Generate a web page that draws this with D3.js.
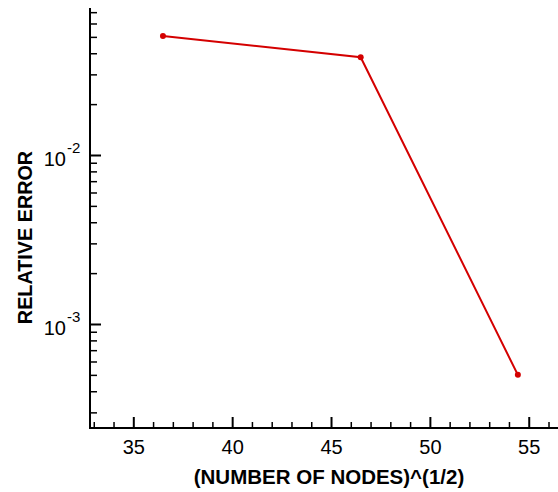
<!DOCTYPE html>
<html>
<head>
<meta charset="utf-8">
<script src="https://cdn.jsdelivr.net/npm/d3@7"></script>
<style>
  html, body { margin: 0; padding: 0; background: #fff; }
  svg { display: block; }
  text { font-family: "Liberation Sans", Arial, Helvetica, sans-serif; fill: #000; }
</style>
</head>
<body>
<svg id="chart" width="558" height="492"></svg>
<script>
// Convergence data: square root of node count vs. relative error
const sqrtNodes = [36.5, 46.5, 54.45];
const relError = [0.0506, 0.0379, 0.0005];

const xTicks = [35, 40, 45, 50, 55];
const xMinorTicks = d3.range(33, 57, 1).filter(v => v % 5 !== 0);
const yMajorTicks = [1e-2, 1e-3];
const yMajorLabels = ["-2", "-3"];
const yMinorTicks = [3e-4, 4e-4, 5e-4, 6e-4, 7e-4, 8e-4, 9e-4,
                     2e-3, 3e-3, 4e-3, 5e-3, 6e-3, 7e-3, 8e-3, 9e-3,
                     2e-2, 3e-2, 4e-2, 5e-2, 6e-2, 7e-2];

const plotLeft = 90, plotRight = 558, plotTop = 8, plotBottom = 428;

const x = d3.scaleLinear().domain([32.81, 56.48]).range([plotLeft, plotRight]);
const y = d3.scaleLog().domain([Math.pow(10, -3.6154), Math.pow(10, -1.1302)]).range([plotBottom, plotTop]);

const svg = d3.select("#chart");

// X axis: ticks point up into the plot
const gx = svg.append("g").attr("transform", `translate(0,${plotBottom})`);
gx.call(d3.axisBottom(x).tickValues(xMinorTicks).tickSizeInner(-6).tickSizeOuter(0).tickFormat(""));
gx.selectAll(".tick line").attr("stroke-width", 1.5);
const gxMaj = svg.append("g").attr("transform", `translate(0,${plotBottom})`);
gxMaj.call(d3.axisBottom(x).tickValues(xTicks).tickSizeInner(-11).tickSizeOuter(0).tickFormat(d3.format("d")));
gxMaj.selectAll(".tick line").attr("stroke-width", 2);
gxMaj.selectAll(".tick text").attr("font-size", 20).attr("y", 25.7).attr("dy", null)
  .style("font-family", "'Liberation Sans', Arial, sans-serif");
svg.selectAll(".domain").remove();
svg.append("line").attr("x1", plotLeft - 1).attr("x2", plotRight).attr("y1", plotBottom).attr("y2", plotBottom)
  .attr("stroke", "#000").attr("stroke-width", 2);

// Y axis: log scale, ticks point right into the plot
const gy = svg.append("g").attr("transform", `translate(${plotLeft},0)`);
gy.call(d3.axisLeft(y).tickValues(yMinorTicks).tickSizeInner(-7).tickSizeOuter(0).tickFormat(""));
gy.selectAll(".tick line").attr("stroke-width", 1.5);
const gyMaj = svg.append("g").attr("transform", `translate(${plotLeft},0)`);
gyMaj.call(d3.axisLeft(y).tickValues(yMajorTicks).tickSizeInner(-11).tickSizeOuter(0).tickFormat(""));
gyMaj.selectAll(".tick line").attr("stroke-width", 2);
svg.selectAll(".domain").remove();
svg.append("line").attr("x1", plotLeft).attr("x2", plotLeft).attr("y1", plotTop).attr("y2", plotBottom + 1)
  .attr("stroke", "#000").attr("stroke-width", 2);

// Power-of-ten labels with superscript exponents
yMajorTicks.forEach((v, i) => {
  svg.append("text")
    .attr("x", 66).attr("y", y(v) + 11)
    .attr("text-anchor", "end").attr("font-size", 20).text("10");
  svg.append("text")
    .attr("x", 67).attr("y", y(v) - 2)
    .attr("font-size", 15).text(yMajorLabels[i]);
});

// Axis titles
svg.append("text")
  .attr("x", 329).attr("y", 484)
  .attr("text-anchor", "middle").attr("font-size", 20.5).attr("font-weight", "bold")
  .text("(NUMBER OF NODES)^(1/2)");
svg.append("text")
  .attr("transform", `translate(32,237.5) rotate(-90)`)
  .attr("text-anchor", "middle").attr("font-size", 19.8).attr("font-weight", "bold")
  .text("RELATIVE ERROR");

// Error curve
const pts = sqrtNodes.map((v, i) => [v, relError[i]]);
svg.append("path")
  .datum(pts)
  .attr("fill", "none").attr("stroke", "#d40000").attr("stroke-width", 2)
  .attr("d", d3.line().x(d => x(d[0])).y(d => y(d[1])));
svg.selectAll("circle.pt").data(pts).enter().append("circle")
  .attr("class", "pt")
  .attr("cx", d => x(d[0])).attr("cy", d => y(d[1])).attr("r", 3)
  .attr("fill", "#d40000");
</script>
</body>
</html>
